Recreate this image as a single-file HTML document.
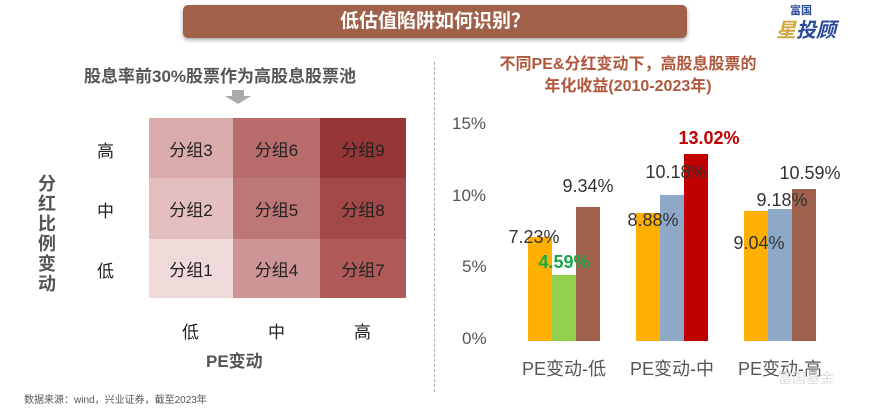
<!DOCTYPE html>
<html><head><meta charset="utf-8"><style>
body{margin:0;width:872px;height:413px;background:#fff;position:relative;overflow:hidden;font-family:"Liberation Sans","Noto Sans CJK SC",sans-serif}
.a{position:absolute;white-space:nowrap}
.cell{position:absolute;display:flex;align-items:center;justify-content:center;font-size:17px;color:#222}
.lbl{position:absolute;font-size:18px;color:#333;transform:translateX(-50%)}
.bar{position:absolute}
</style></head><body>
<div class="a" style="left:183px;top:5px;width:504px;height:33px;background:#a0604a;border-radius:5px;box-shadow:0 2px 4px rgba(0,0,0,.35);color:#fff;font-weight:bold;font-size:19px;text-align:center;line-height:33px">低估值陷阱如何识别？</div>
<div class="a" style="top:2px;color:#2a4a9a;font-size:11px;font-weight:bold;left:790px">富国</div>
<div class="a" style="left:776px;top:14px;color:#2a4a9a;font-size:20px;font-weight:bold;font-style:italic"><span style="color:#d4a640">星</span>投顾</div>

<div class="a" style="left:84px;top:62px;font-size:17px;font-weight:bold;color:#555">股息率前30%股票作为高股息股票池</div>
<div class="a" style="left:232px;top:90px;width:12px;height:6px;background:#aaa"></div>
<div class="a" style="left:225px;top:96px;width:0;height:0;border-left:13px solid transparent;border-right:13px solid transparent;border-top:8px solid #aaa"></div>

<div class="cell" style="left:149px;top:118px;width:84px;height:60px;background:#d9abab">分组3</div>
<div class="cell" style="left:233px;top:118px;width:87px;height:60px;background:#b96c6c">分组6</div>
<div class="cell" style="left:320px;top:118px;width:86px;height:60px;background:#963636">分组9</div>
<div class="cell" style="left:149px;top:178px;width:84px;height:61px;background:#e3bfbf">分组2</div>
<div class="cell" style="left:233px;top:178px;width:87px;height:61px;background:#be7777">分组5</div>
<div class="cell" style="left:320px;top:178px;width:86px;height:61px;background:#a34848">分组8</div>
<div class="cell" style="left:149px;top:239px;width:84px;height:59px;background:#efd9d9">分组1</div>
<div class="cell" style="left:233px;top:239px;width:87px;height:59px;background:#cd9595">分组4</div>
<div class="cell" style="left:320px;top:239px;width:86px;height:59px;background:#b05959">分组7</div>

<div class="a" style="left:97px;top:137px;font-size:17px;color:#222">高</div>
<div class="a" style="left:97px;top:197px;font-size:17px;color:#222">中</div>
<div class="a" style="left:97px;top:257px;font-size:17px;color:#222">低</div>
<div class="a" style="left:38px;top:174px;width:20px;font-size:18px;font-weight:bold;color:#555;line-height:20px;white-space:normal">分红比例变动</div>
<div class="a" style="left:182px;top:318px;font-size:17px;color:#222">低</div>
<div class="a" style="left:268px;top:318px;font-size:17px;color:#222">中</div>
<div class="a" style="left:354px;top:318px;font-size:17px;color:#222">高</div>
<div class="a" style="left:206px;top:347px;font-size:17px;font-weight:bold;color:#555">PE变动</div>
<div class="a" style="left:24px;top:391px;font-size:10px;color:#555">数据来源：wind，兴业证券，截至2023年</div>

<div class="a" style="left:434px;top:62px;height:330px;border-left:1px dashed #aaa"></div>

<div class="a" style="left:488px;top:54px;width:280px;text-align:center;font-size:16px;font-weight:bold;color:#b0583c;line-height:22px">不同PE&amp;分红变动下，高股息股票的<br>年化收益(2010-2023年)</div>

<div class="a" style="left:452px;top:114px;font-size:17px;color:#555">15%</div>
<div class="a" style="left:452px;top:186px;font-size:17px;color:#555">10%</div>
<div class="a" style="left:462px;top:257px;font-size:17px;color:#555">5%</div>
<div class="a" style="left:462px;top:329px;font-size:17px;color:#555">0%</div>

<div class="bar" style="left:528px;top:237px;width:24px;height:104px;background:#ffb000"></div>
<div class="bar" style="left:552px;top:275px;width:24px;height:66px;background:#92d050"></div>
<div class="bar" style="left:576px;top:207px;width:24px;height:134px;background:#a0614d"></div>
<div class="bar" style="left:636px;top:213px;width:24px;height:128px;background:#ffb000"></div>
<div class="bar" style="left:660px;top:195px;width:24px;height:146px;background:#8ea9c8"></div>
<div class="bar" style="left:684px;top:154px;width:24px;height:187px;background:#c00000"></div>
<div class="bar" style="left:744px;top:211px;width:24px;height:130px;background:#ffb000"></div>
<div class="bar" style="left:768px;top:209px;width:24px;height:132px;background:#8ea9c8"></div>
<div class="bar" style="left:792px;top:189px;width:24px;height:152px;background:#a0614d"></div>

<div class="lbl" style="left:534px;top:227px">7.23%</div>
<div class="lbl" style="left:564px;top:252px;color:#1aa54a;font-weight:bold">4.59%</div>
<div class="lbl" style="left:588px;top:176px">9.34%</div>
<div class="lbl" style="left:653px;top:210px">8.88%</div>
<div class="lbl" style="left:676px;top:162px">10.18%</div>
<div class="lbl" style="left:709px;top:128px;color:#c00000;font-weight:bold">13.02%</div>
<div class="lbl" style="left:759px;top:233px">9.04%</div>
<div class="lbl" style="left:782px;top:190px">9.18%</div>
<div class="lbl" style="left:810px;top:163px">10.59%</div>

<div class="lbl" style="left:564px;top:355px;color:#555">PE变动-低</div>
<div class="lbl" style="left:672px;top:355px;color:#555">PE变动-中</div>
<div class="lbl" style="left:780px;top:355px;color:#555">PE变动-高</div>
<div class="a" style="left:778px;top:368px;font-size:14px;color:#ddd">富国基金</div>
</body></html>
